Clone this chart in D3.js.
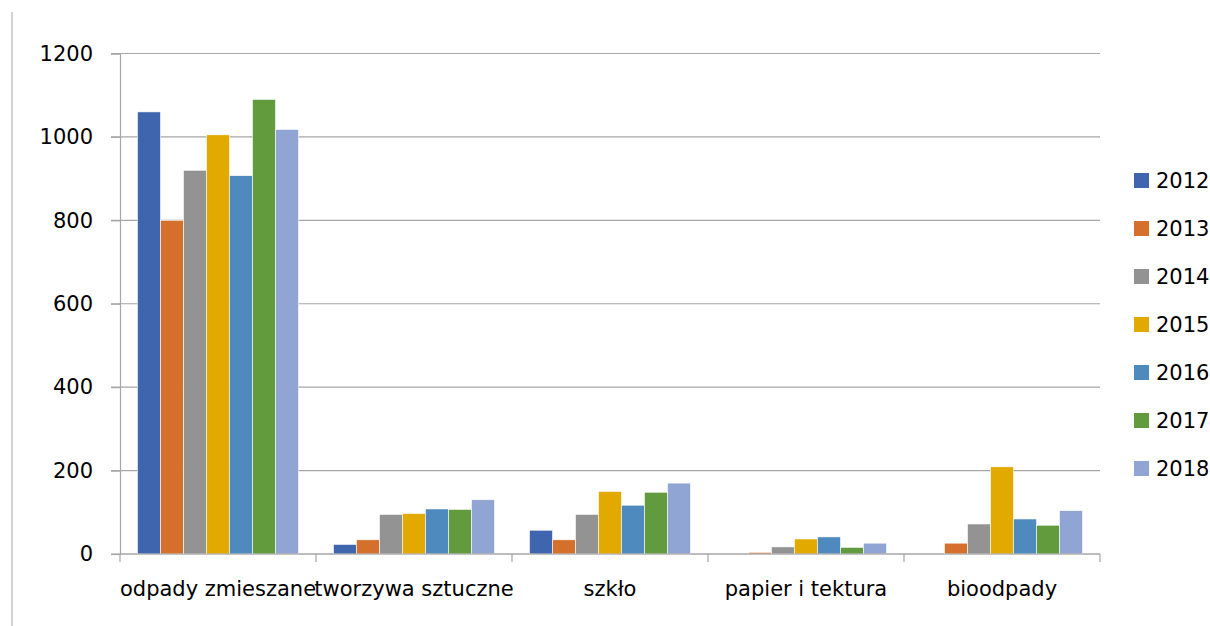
<!DOCTYPE html>
<html>
<head>
<meta charset="utf-8">
<script src="https://cdn.jsdelivr.net/npm/d3@7"></script>
<style>
  body { margin: 0; background: #fff; }
  text { font-family: "DejaVu Sans", sans-serif; fill: #000; }
</style>
</head>
<body>
<script>
// chart data
let categories = ['odpady zmieszane', 'tworzywa sztuczne', 'szkło', 'papier i tektura', 'bioodpady'];
let years = ['2012', '2013', '2014', '2015', '2016', '2017', '2018'];
let values2012 = [1060, 23, 57, 0, 0];
let values2013 = [800, 34, 34, 4, 26];
let values2014 = [920, 95, 95, 17, 72];
let values2015 = [1005, 97, 150, 36, 209];
let values2016 = [907, 108, 117, 41, 84];
let values2017 = [1090, 107, 148, 16, 69];
let values2018 = [1018, 130, 170, 26, 104];
let yTicks = [0, 200, 400, 600, 800, 1000, 1200];
let colors = ['#3F65AF', '#D4702C', '#939393', '#E2AA00', '#4F8ABE', '#629B3E', '#91A5D5'];

let series = [values2012, values2013, values2014, values2015, values2016, values2017, values2018];

let svg = d3.select('body').append('svg')
    .attr('width', 1210)
    .attr('height', 626);

// outer border, only left edge is visible
svg.append('line')
    .attr('x1', 12).attr('x2', 12)
    .attr('y1', 12).attr('y2', 626)
    .attr('stroke', '#A6A6A6').attr('stroke-width', 1);

let plotLeft = 120, plotRight = 1100, plotTop = 53.5, plotBottom = 554;

let xScale = d3.scaleBand()
    .domain(categories)
    .range([plotLeft, plotRight]);

let yScale = d3.scaleLinear()
    .domain([0, 1200])
    .range([plotBottom, plotTop]);

let inner = d3.scaleBand()
    .domain(years)
    .range([17.5, xScale.bandwidth() - 17.5]);

// gridlines
svg.append('g')
    .selectAll('line')
    .data(yTicks)
    .join('line')
    .attr('x1', plotLeft - 9)
    .attr('x2', plotRight)
    .attr('y1', d => yScale(d))
    .attr('y2', d => yScale(d))
    .attr('stroke', '#A6A6A6')
    .attr('stroke-width', 1.2);

// bars
for (let s = 0; s < series.length; ++s) {
    svg.append('g')
        .selectAll('rect')
        .data(series[s])
        .join('rect')
        .attr('x', (d, i) => xScale(categories[i]) + inner(years[s]))
        .attr('y', d => yScale(d))
        .attr('width', inner.bandwidth())
        .attr('height', d => plotBottom - yScale(d))
        .attr('fill', colors[s])
        .attr('stroke', d => d > 0 ? '#ffffff' : 'none')
        .attr('stroke-width', 0.6);
}

// y axis
let yAxis = d3.axisLeft(yScale)
    .tickValues(yTicks)
    .tickFormat(d3.format('d'))
    .tickSize(9)
    .tickPadding(18);
let gy = svg.append('g')
    .attr('transform', 'translate(' + plotLeft + ',0)')
    .call(yAxis);
gy.select('.domain').attr('stroke', '#A6A6A6').attr('stroke-width', 1.2);
gy.selectAll('.tick line').attr('stroke', '#A6A6A6').attr('stroke-width', 1.2);
gy.selectAll('.tick text')
    .attr('font-size', 21);

// x axis
let xAxis = d3.axisBottom(xScale)
    .tickSize(0)
    .tickPadding(27);
let gx = svg.append('g')
    .attr('transform', 'translate(0,' + plotBottom + ')')
    .call(xAxis);
gx.select('.domain').remove();
gx.selectAll('.tick text')
    .attr('font-size', 21);
svg.append('line')
    .attr('x1', plotLeft).attr('x2', plotRight)
    .attr('y1', plotBottom).attr('y2', plotBottom)
    .attr('stroke', '#A6A6A6').attr('stroke-width', 1.2);
svg.append('g')
    .selectAll('line')
    .data(categories.concat(['end']))
    .join('line')
    .attr('x1', (d, i) => plotLeft + i * xScale.bandwidth())
    .attr('x2', (d, i) => plotLeft + i * xScale.bandwidth())
    .attr('y1', plotBottom)
    .attr('y2', plotBottom + 8)
    .attr('stroke', '#A6A6A6').attr('stroke-width', 1.2);

// legend
let legend = svg.append('g')
    .attr('transform', 'translate(1134, 173)');
let items = legend.selectAll('g')
    .data(years)
    .join('g')
    .attr('transform', (d, i) => 'translate(0,' + (i * 48) + ')');
items.append('rect')
    .attr('width', 15)
    .attr('height', 15)
    .attr('fill', (d, i) => colors[i]);
items.append('text')
    .attr('x', 22)
    .attr('y', 15)
    .attr('font-size', 21)
    .text(d => d);
</script>
</body>
</html>
